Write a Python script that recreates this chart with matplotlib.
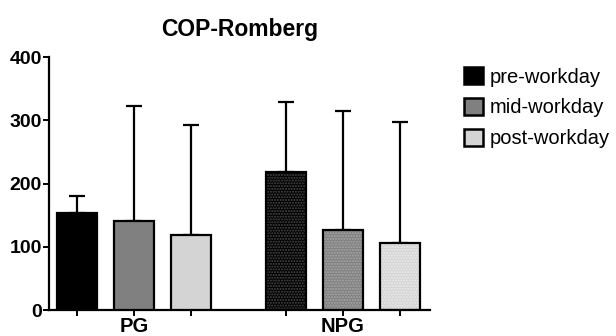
import matplotlib
matplotlib.use("Agg")
import matplotlib.pyplot as plt
import numpy as np
from matplotlib.patches import Patch

plt.rcParams["font.family"] = ["Liberation Sans", "DejaVu Sans"]

groups = ["PG", "NPG"]
conditions = ["pre-workday", "mid-workday", "post-workday"]
means = {
    "PG": [154, 141, 119],
    "NPG": [218, 126, 106],
}
upper_sd = {
    "PG": [27, 182, 174],
    "NPG": [111, 189, 191],
}
colors = ["#000000", "#808080", "#d4d4d4"]
dot_colors = ["#4a4a4a", "#a8a8a8", "#ececec"]

fig = plt.figure(figsize=(6.16, 3.36), dpi=100)
ax = fig.add_axes([0.0795, 0.077, 0.619, 0.753])

group_starts = [0.0, 3.66]
width = 0.7
for g, start in zip(groups, group_starts):
    xs = start + np.arange(len(conditions))
    for i, x in enumerate(xs):
        if g == "NPG":
            # dotted texture on the NPG bars
            ax.bar(x, means[g][i], width, color=colors[i], edgecolor=dot_colors[i],
                   hatch="......", linewidth=0, zorder=2)
            ax.bar(x, means[g][i], width, facecolor="none", edgecolor="black",
                   linewidth=1.6, zorder=3)
        else:
            ax.bar(x, means[g][i], width, color=colors[i], edgecolor="black",
                   linewidth=1.6, zorder=3)
    ax.errorbar(xs, means[g], yerr=[np.zeros(3), upper_sd[g]], fmt="none",
                ecolor="black", elinewidth=1.6, capsize=5.5, capthick=1.6, zorder=1)

ax.set_xlim(-0.49, 6.19)
ax.set_ylim(0, 400)
ax.set_yticks([0, 100, 200, 300, 400])
ax.set_xticks(list(np.arange(3)) + list(3.66 + np.arange(3)))
ax.set_xticklabels([])
for x, g in zip([1.0, 4.66], groups):
    ax.text(x, -11, g, ha="center", va="top", fontsize=14.5, fontweight="bold")

for side in ["top", "right"]:
    ax.spines[side].set_visible(False)
for side in ["left", "bottom"]:
    ax.spines[side].set_linewidth(1.6)
ax.tick_params(axis="both", width=1.4, length=4, direction="out")
ax.tick_params(axis="y", labelsize=14, pad=1)
for lab in ax.get_yticklabels():
    lab.set_fontweight("bold")

ax.set_title("COP-Romberg", fontsize=16.5, fontweight="bold", pad=15)

handles = [Patch(facecolor=c, edgecolor="black", linewidth=1.8) for c in colors]
fig.legend(handles, conditions, loc="upper left", bbox_to_anchor=(0.754, 0.80),
           frameon=False, fontsize=14.5, handlelength=0.9, handleheight=0.9,
           handletextpad=0.35, labelspacing=0.58, borderaxespad=0, borderpad=0)

fig.savefig("out.png", dpi=100)
